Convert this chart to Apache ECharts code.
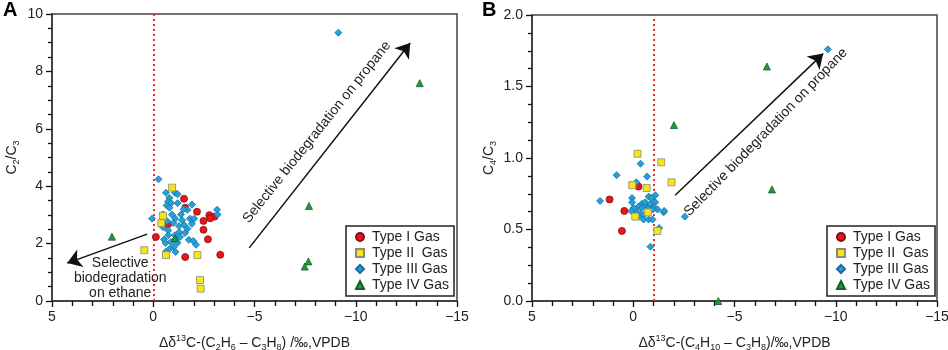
<!DOCTYPE html>
<html>
<head>
<meta charset="utf-8">
<title>Gas type scatter</title>
<script src="https://cdn.jsdelivr.net/npm/echarts@6/dist/echarts.min.js"></script>
<style>
  html, body { margin: 0; padding: 0; background: #fff; }
  #main { width: 948px; height: 350px; }
</style>
</head>
<body>
<div id="main"></div>
<script>
// ---- data (A: C2/C3 vs d13C(C2-C3), B: C4/C3 vs d13C(C4-C3)) ----
var seriesNames = ['Type I Gas', 'Type II  Gas', 'Type III Gas', 'Type IV Gas'];

var typeI_A = [[-0.13,2.23],[-0.73,2.67],[-1.52,3.56],[-1.58,3.25],[-2.16,3.11],[-2.77,2.99],
  [-3.03,2.94],[-2.81,2.88],[-2.48,2.79],[-2.48,2.48],[-2.70,2.15],[-1.58,1.53],[-3.31,1.61]];
var typeII_A = [[-0.93,3.95],[-0.48,2.97],[-0.40,2.71],[0.44,1.77],[-0.63,1.60],[-2.18,1.60],
  [-2.31,0.73],[-2.34,0.43]];
var typeIII_A = [[-0.26,4.24],[-0.63,3.77],[-1.07,3.77],[-1.20,3.72],[-0.80,3.59],[-0.73,3.47],
  [-0.89,3.41],[-0.66,3.33],[-0.80,3.25],[-1.20,3.41],[-1.91,3.36],[-1.69,3.18],[-1.50,3.20],
  [-1.37,3.01],[-1.43,2.81],[-1.81,2.87],[-2.02,2.87],[-1.91,2.69],[-3.15,3.18],[-3.18,3.01],
  [0.06,2.87],[-0.48,3.02],[-0.92,3.01],[-1.09,2.87],[-0.69,2.78],[-0.99,2.72],[-1.27,2.61],
  [-1.53,2.64],[-1.69,2.52],[-1.57,2.37],[-1.28,2.40],[-1.07,2.29],[-0.74,2.46],[-0.49,2.57],
  [-0.74,2.29],[-0.53,2.14],[-0.61,2.02],[-0.87,2.06],[-1.09,2.15],[-1.20,2.03],[-1.02,1.88],
  [-0.82,1.82],[-1.10,1.71],[-0.61,1.71],[-1.32,2.23],[-2.11,1.96],[-1.76,2.13],[-1.98,2.09],
  [-9.14,9.35]];
var typeIV_A = [[2.04,2.24],[-1.07,2.19],[-7.69,3.31],[-7.66,1.38],[-7.48,1.20],[-13.16,7.59]];

var typeI_B = [[-0.26,0.80],[1.17,0.71],[0.44,0.63],[0.56,0.49]];
var typeII_B = [[-0.21,1.03],[-1.38,0.97],[-1.89,0.83],[0.05,0.81],[-0.66,0.79],[-0.72,0.62],
  [-0.10,0.59],[-1.19,0.49]];
var typeIII_B = [[-0.36,0.96],[0.82,0.88],[-0.68,0.87],[-0.15,0.83],[1.64,0.70],[0.06,0.72],
  [0.06,0.69],[-0.76,0.73],[-0.89,0.72],[-1.09,0.69],[-0.43,0.68],[-0.59,0.67],[-0.26,0.66],
  [-0.02,0.65],[-0.43,0.65],[-0.76,0.65],[-1.00,0.66],[-1.20,0.64],[-1.50,0.62],[-0.18,0.62],
  [-0.35,0.61],[-0.51,0.60],[0.10,0.63],[-0.26,0.59],[-0.51,0.57],[-0.76,0.57],[-0.95,0.57],
  [-1.28,0.51],[-0.85,0.38],[-0.59,0.69],[-0.84,0.68],[-1.09,0.74],[-0.97,0.64],[-1.53,0.63],
  [-2.55,0.59],[-9.61,1.76]];
var typeIV_B = [[-2.01,1.23],[-6.60,1.64],[-6.85,0.78],[-4.20,0.00]];

// axis ranges
var yMaxA = 10, yMaxB = 2;

// reference lines and arrows, in data units
var zeroLineA = 0;
var zeroLineB = -1;
var arrowsA = [[[-4.74,1.85],[-12.69,8.99]], [[0.30,2.33],[4.25,1.32]]];
var arrowsB = [[[-2.07,0.74],[-9.38,1.73]]];

var chart = echarts.init(document.getElementById('main'));
var FONT = 'Liberation Sans, Arial, sans-serif';
var INK = '#222';

var subRich = {
  n: { fontSize: 14, lineHeight: 18, verticalAlign: 'middle', color: INK, fontFamily: FONT },
  s: { fontSize: 9, lineHeight: 9, verticalAlign: 'bottom', color: INK, fontFamily: FONT },
  u: { fontSize: 9, lineHeight: 9, verticalAlign: 'top', color: INK, fontFamily: FONT }
};

function xAxisCfg(idx, name) {
  return {
    type: 'value', gridIndex: idx, min: -15, max: 5, interval: 5, inverse: true,
    name: name, nameLocation: 'middle', nameGap: 33,
    nameTextStyle: { rich: subRich },
    axisLine: { show: true, onZero: false, lineStyle: { color: '#333', width: 1.5 } },
    axisTick: { show: true, length: 6, lineStyle: { color: '#111', width: 1.3 } },
    minorTick: { show: true, splitNumber: 5, length: 5, lineStyle: { color: '#111', width: 1.3 } },
    splitLine: { show: false },
    axisLabel: {
      color: INK, fontSize: 14, fontFamily: FONT, margin: 9,
      formatter: function (v) { return String(v).replace('-', '\u2212'); }
    }
  };
}

function yAxisCfg(idx, max, interval, digits, name, gap) {
  return {
    type: 'value', gridIndex: idx, min: 0, max: max, interval: interval,
    name: name, nameLocation: 'middle', nameGap: gap, nameRotate: 90,
    nameTextStyle: { rich: subRich },
    axisLine: { show: true, onZero: false, lineStyle: { color: '#333', width: 1.5 } },
    axisTick: { show: true, length: 6, lineStyle: { color: '#111', width: 1.3 } },
    minorTick: { show: true, splitNumber: 4, length: 4, lineStyle: { color: '#111', width: 1.3 } },
    splitLine: { show: false },
    axisLabel: {
      color: INK, fontSize: 14, fontFamily: FONT, margin: 9,
      formatter: function (v) { return v.toFixed(digits); }
    }
  };
}

var styles = [
  { symbol: 'circle', size: 7, color: '#e8161c', border: '#7d1212', z: 2 },
  { symbol: 'rect', size: 7, color: '#f6e714', border: '#8a8a7a', z: 4 },
  { symbol: 'diamond', size: 7, color: '#22a2dc', border: '#1b6e98', z: 3 },
  { symbol: 'triangle', size: 7, color: '#1e9a3a', border: '#16602a', z: 5 }
];

function makeSeries(idx, sets) {
  return sets.map(function (d, i) {
    var st = styles[i];
    return {
      name: seriesNames[i], type: 'scatter', xAxisIndex: idx, yAxisIndex: idx,
      symbol: st.symbol, symbolSize: st.size, z: st.z, data: d,
      itemStyle: { color: st.color, borderColor: st.border, borderWidth: 0.8, opacity: 1 }
    };
  });
}

// arrows and the dotted reference line ride on the Type I series of each panel
function markLines(arrows, zeroX, yMax) {
  var items = arrows.map(function (a) {
    return [{ coord: a[0], symbol: 'none' }, { coord: a[1], symbol: 'arrow', symbolSize: 14 }];
  });
  items.push([
    { coord: [zeroX, 0], symbol: 'none', lineStyle: { color: '#e8302a', type: [2, 3], width: 2 } },
    { coord: [zeroX, yMax], symbol: 'none' }
  ]);
  return {
    silent: true, animation: false, label: { show: false }, z: 1,
    lineStyle: { color: '#111', width: 1.5, type: 'solid' },
    data: items
  };
}

function legendCfg(left) {
  return {
    data: seriesNames, orient: 'vertical', left: left, top: 226,
    padding: [3, 5, 3, 9], itemGap: 0, itemWidth: 8, itemHeight: 8,
    borderColor: '#222', borderWidth: 1.5, selectedMode: false,
    textStyle: { color: INK, fontSize: 14, fontFamily: FONT, lineHeight: 16, padding: [0, 0, 0, 3] }
  };
}

var seriesA = makeSeries(0, [typeI_A, typeII_A, typeIII_A, typeIV_A]);
var seriesB = makeSeries(1, [typeI_B, typeII_B, typeIII_B, typeIV_B]);
seriesA[0].markLine = markLines(arrowsA, zeroLineA, yMaxA);
seriesB[0].markLine = markLines(arrowsB, zeroLineB, yMaxB);

chart.setOption({
  animation: false,
  grid: [
    { left: 52, right: 491, top: 14, bottom: 49, show: true, borderColor: '#444', borderWidth: 1.5,
      outerBoundsMode: 'none' },
    { left: 532, right: 11, top: 15, bottom: 49, show: true, borderColor: '#444', borderWidth: 1.5,
      outerBoundsMode: 'none' }
  ],
  xAxis: [
    xAxisCfg(0, '{n|\u0394\u03b4}{u|13}{n|C-(C}{s|2}{n|H}{s|6}{n| \u2013 C}{s|3}{n|H}{s|8}{n|) /\u2030,VPDB}'),
    xAxisCfg(1, '{n|\u0394\u03b4}{u|13}{n|C-(C}{s|4}{n|H}{s|10}{n| \u2013 C}{s|3}{n|H}{s|8}{n|)/\u2030,VPDB}')
  ],
  yAxis: [
    yAxisCfg(0, yMaxA, 2, 0, '{n|C}{s|2}{n|/C}{s|3}', 31),
    yAxisCfg(1, yMaxB, 0.5, 1, '{n|C}{s|4}{n|/C}{s|3}', 34)
  ],
  legend: [legendCfg(346), legendCfg(827)],
  series: seriesA.concat(seriesB)
});

// text annotations anchored at data positions
function px(grid, pt) { return chart.convertToPixel({ gridIndex: grid }, pt); }
var pA = px(0, [-8.08, 5.88]);
var pB = px(1, [-6.55, 1.18]);
var pE = px(0, [1.63, 0.80]);
var txt = { fill: INK, fontSize: 14, fontFamily: FONT, textAlign: 'center', textVerticalAlign: 'middle' };

chart.setOption({
  graphic: [
    { type: 'text', left: 3, top: 0, style: { text: 'A', fill: '#000', fontSize: 20, fontWeight: 'bold', fontFamily: FONT } },
    { type: 'text', left: 482, top: 0, style: { text: 'B', fill: '#000', fontSize: 20, fontWeight: 'bold', fontFamily: FONT } },
    { type: 'text', x: pA[0], y: pA[1], rotation: 51.4 * Math.PI / 180,
      style: Object.assign({ text: 'Selective biodegradation on propane' }, txt) },
    { type: 'text', x: pB[0], y: pB[1], rotation: 45.9 * Math.PI / 180,
      style: Object.assign({ text: 'Selective biodegradation on propane' }, txt) },
    { type: 'text', x: pE[0], y: pE[1],
      style: Object.assign({ text: 'Selective\nbiodegradation\non ethane', lineHeight: 15 }, txt) }
  ]
});
</script>
</body>
</html>
